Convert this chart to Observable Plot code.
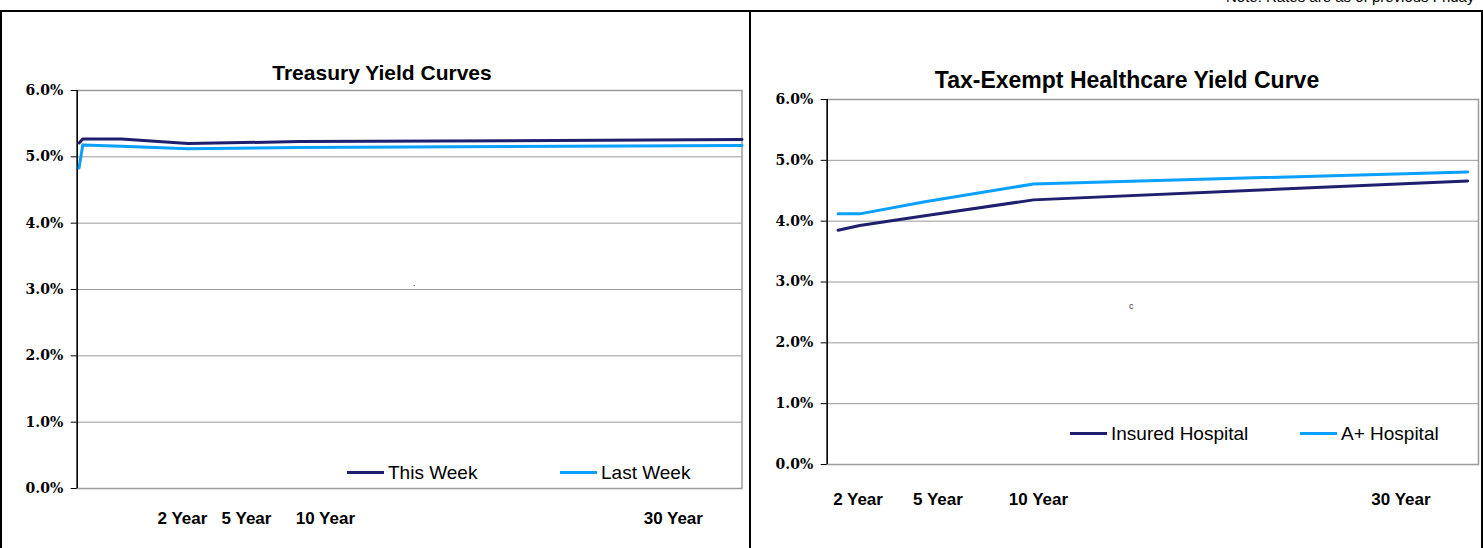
<!DOCTYPE html>
<html><head><meta charset="utf-8">
<script src="https://cdn.jsdelivr.net/npm/d3@7"></script>
<script src="https://cdn.jsdelivr.net/npm/@observablehq/plot@0.6"></script>
<style>
body{margin:0;background:#fff;}
#root{position:relative;width:1483px;height:548px;overflow:hidden;background:#fff;font-family:"Liberation Sans",Arial,sans-serif;color:#000;}
.abs{position:absolute;}
.rule{position:absolute;background:#000;}
.title{position:absolute;font-weight:bold;white-space:nowrap;transform:translateX(-50%);line-height:1;}
.leg{position:absolute;display:flex;align-items:center;font-size:19px;white-space:nowrap;line-height:1;}
.sw{display:inline-block;width:37px;height:3px;margin-right:4px;}
</style>
</head><body>
<div id="root"></div>
<script>
// ---- data ----
const yTicks = [0, 1, 2, 3, 4, 5, 6];

const treasurySeries = ["This Week", "Last Week"];
const treasuryMaturity = [0.083, 0.25, 2, 5, 10, 30];
const treasuryThisWeek = [5.21, 5.27, 5.27, 5.20, 5.23, 5.26];
const treasuryLastWeek = [4.83, 5.18, 5.16, 5.12, 5.14, 5.17];
const treasuryLabels = ["2 Year", "5 Year", "10 Year", "30 Year"];
const treasuryLabelAt = [4.75, 7.64, 11.2, 26.9];

const healthSeries = ["Insured Hospital", "A+ Hospital"];
const healthMaturity = [1, 2, 5, 10, 30];
const insuredHospital = [3.85, 3.93, 4.09, 4.35, 4.66];
const aPlusHospital = [4.12, 4.12, 4.32, 4.61, 4.81];
const healthLabels = ["2 Year", "5 Year", "10 Year", "30 Year"];
const healthLabelAt = [1.92, 5.6, 10.23, 26.93];

const colors = ["#1f1f6e", "#0aa0ff"];

// ---- build rows ----
const treasuryRows = [];
treasuryMaturity.forEach((m, i) => {
  treasuryRows.push({m, v: treasuryThisWeek[i], s: treasurySeries[0]});
});
treasuryMaturity.forEach((m, i) => {
  treasuryRows.push({m, v: treasuryLastWeek[i], s: treasurySeries[1]});
});
const healthRows = [];
healthMaturity.forEach((m, i) => {
  healthRows.push({m, v: insuredHospital[i], s: healthSeries[0]});
});
healthMaturity.forEach((m, i) => {
  healthRows.push({m, v: aPlusHospital[i], s: healthSeries[1]});
});

const pct = d => d.toFixed(1) + "%";
const serifAxis = {fontFamily: "DejaVu Serif", fontWeight: "bold", fontSize: 14};
const sansAxis = {fontFamily: "Liberation Sans, Arial, sans-serif", fontWeight: "bold", fontSize: 17};

function chart({rows, series, domain, labels, labelAt, width, height, ml, mr, mt, mb, pad}) {
  const lab = new Map(labelAt.map((d, i) => [d, labels[i]]));
  return Plot.plot({
    width, height,
    marginLeft: ml, marginRight: mr, marginTop: mt, marginBottom: mb,
    x: {domain},
    y: {domain: [0, 6]},
    color: {domain: series, range: colors},
    style: {background: "transparent", overflow: "visible"},
    marks: [
      Plot.gridY(yTicks, {stroke: "#9a9a9a", strokeOpacity: 1, strokeWidth: 1}),
      Plot.frame({stroke: "#9a9a9a", strokeWidth: 1.5}),
      Plot.ruleX([domain[0]], {stroke: "#000", strokeWidth: 1.5}),
      Plot.axisY(yTicks, {tickFormat: pct, tickSize: 6, tickPadding: 8, label: null, ...serifAxis}),
      Plot.axisX(labelAt, {tickFormat: d => lab.get(d), tickSize: 0, tickPadding: pad, label: null, ...sansAxis}),
      Plot.line(rows, {x: "m", y: "v", z: "s", stroke: "s", strokeWidth: 3, curve: "linear"})
    ]
  });
}

const root = document.getElementById("root");

const left = chart({rows: treasuryRows, series: treasurySeries, domain: [0, 30],
  labels: treasuryLabels, labelAt: treasuryLabelAt,
  width: 750, height: 536, ml: 76.7, mr: 8.5, mt: 78, mb: 60, pad: 23});
left.style.position = "absolute"; left.style.left = "0px"; left.style.top = "12px";
root.appendChild(left);

const right = chart({rows: healthRows, series: healthSeries, domain: [0.5, 30.5],
  labels: healthLabels, labelAt: healthLabelAt,
  width: 731, height: 536, ml: 74.7, mr: 5, mt: 87, mb: 84, pad: 28});
right.style.position = "absolute"; right.style.left = "752px"; right.style.top = "12px";
root.appendChild(right);

// ---- frame rules ----
function rule(l, t, w, h) {
  const d = document.createElement("div");
  d.className = "rule";
  Object.assign(d.style, {left: l + "px", top: t + "px", width: w + "px", height: h + "px"});
  root.appendChild(d);
}
rule(0, 10, 1483, 2);
rule(0, 10, 2, 538);
rule(749, 10, 2, 538);
rule(1481, 10, 2, 538);

// ---- titles ----
function title(text, cx, top, size) {
  const d = document.createElement("div");
  d.className = "title";
  d.textContent = text;
  Object.assign(d.style, {left: cx + "px", top: top + "px", fontSize: size + "px"});
  root.appendChild(d);
}
title("Treasury Yield Curves", 382, 62, 21);
title("Tax-Exempt Healthcare Yield Curve", 1127, 69, 23);

// ---- legends ----
function legend(items, cols, xs, cy) {
  items.forEach((name, i) => {
    const d = document.createElement("div");
    d.className = "leg";
    const s = document.createElement("span");
    s.className = "sw";
    s.style.background = cols[i];
    d.appendChild(s);
    d.appendChild(document.createTextNode(name));
    Object.assign(d.style, {left: xs[i] + "px", top: (cy - 10) + "px", height: "20px"});
    root.appendChild(d);
  });
}
legend(treasurySeries, colors, [347, 560], 472);
legend(healthSeries, colors, [1070, 1300], 433);

// ---- note (cut off at the top edge, as in the source) and stray marks ----
const note = document.createElement("div");
note.className = "abs";
note.textContent = "Note: Rates are as of previous Friday";
Object.assign(note.style, {left: "1226px", top: "-11px", fontSize: "15px", whiteSpace: "nowrap", lineHeight: "1"});
root.appendChild(note);

const c = document.createElement("div");
c.className = "abs";
c.textContent = "c";
Object.assign(c.style, {left: "1129px", top: "302px", fontSize: "9px", lineHeight: "1", color: "#333"});
root.appendChild(c);
const dot = document.createElement("div");
dot.className = "abs";
dot.textContent = ".";
Object.assign(dot.style, {left: "413px", top: "279px", fontSize: "9px", lineHeight: "1", color: "#333"});
root.appendChild(dot);
</script>
</body></html>
